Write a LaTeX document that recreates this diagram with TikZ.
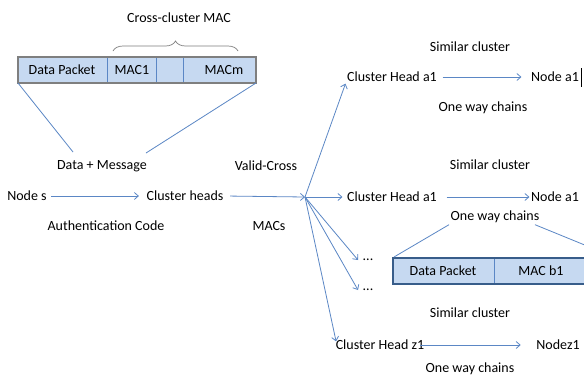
\documentclass[tikz,border=0pt]{standalone}
\usepackage{fontspec}
\setmainfont{Carlito}
\usetikzlibrary{arrows.meta,decorations.pathreplacing}
\definecolor{ln}{HTML}{5B87C5}
\definecolor{cellfill}{HTML}{C6D9F1}
\definecolor{grayb}{HTML}{7F7F7F}
\definecolor{darkb}{HTML}{385D8A}
\tikzset{
  lbl/.style={inner sep=1.5pt, font=\fontsize{14}{16}\selectfont},
  conn/.style={draw=ln, line width=0.8pt},
  arr/.style={conn, -{Straight Barb[length=4pt,width=7pt]}},
}
\begin{document}
\begin{tikzpicture}[x=1pt,y=-1pt]
\useasboundingbox (0,0) rectangle (584,381);
\clip (0,0) rectangle (584,381);
\fill[white] (0,0) rectangle (584,381);
% top packet
\fill[cellfill] (18,57) rectangle (256,83);
\draw[ln, line width=0.8pt] (107,57) -- (107,83) (156,57) -- (156,83) (183,57) -- (183,83);
\draw[grayb, line width=2pt] (18,57) rectangle (256,83);
\coordinate (tbl) at (18,83);
\coordinate (tbr) at (256,83);
\node[lbl] (dp1) at (62,70) {Data Packet};
\node[lbl] (mac1) at (132,70) {MAC1};
\node[lbl] (macm) at (224,70) {MACm};
\draw[grayb, line width=0.7pt, decorate, decoration={brace, amplitude=10pt}] (113,51) -- (238,51);
\node[lbl] (cc) at (179,18) {Cross-cluster MAC};
% left texts
\node[lbl] (dm) at (102,166) {Data + Message};
\node[lbl] (vc) at (266,166) {Valid-Cross};
\node[lbl] (ns) at (27,196) {Node s};
\node[lbl] (ch) at (185,196) {Cluster heads};
\node[lbl] (ac) at (106,226) {Authentication Code};
\node[lbl] (macs) at (269,226) {MACs};
\coordinate (dmL) at (73,152);
\coordinate (dmR) at (146,153);
\draw[conn] (tbl) -- (dmL);
\draw[conn] (tbr) -- (dmR);
\coordinate (fan) at (305,197);
\draw[arr, shorten <=3pt, shorten >=6pt] (ns.east) -- (ch.west);
\draw[arr, shorten <=5pt] (ch.east) -- (fan);
% right column
\node[lbl] (sc1) at (470,47) {Similar cluster};
\node[lbl] (cha1) at (392,77) {Cluster Head a1};
\node[lbl] (na1) at (555,77) {Node a1};
\node[lbl] (ow1) at (483,108) {One way chains};
\draw[black, line width=1pt] (581,68) -- (581,87);
\node[lbl] (sc2) at (490,165) {Similar cluster};
\node[lbl] (cha2) at (392,197) {Cluster Head a1};
\node[lbl] (na2) at (555,197) {Node a1};
\node[lbl] (ow2) at (495,217) {One way chains};
\node[lbl] (d1) at (368,260) {...};
\node[lbl] (d2) at (368,290) {...};
\node[lbl] (sc3) at (470,313) {Similar cluster};
\node[lbl] (chz) at (380,345) {Cluster Head z1};
\node[lbl] (nz) at (558,345) {Nodez1};
\node[lbl] (ow3) at (470,369) {One way chains};
% fan arrows
\draw[arr] (fan) -- (cha1.south west);
\draw[arr, shorten >=3pt] (fan) -- (cha2.west);
\draw[arr] (fan) -- ([xshift=-3pt]d1.west);
\draw[arr] (fan) -- ([xshift=-3pt]d2.west);
\draw[arr] (fan) -- ([xshift=2pt,yshift=-3pt]chz.north west);
% horizontal arrows
\draw[arr] ([xshift=4pt]cha1.east) -- ([xshift=-8pt]na1.west);
\draw[arr] ([xshift=8pt]cha2.east) -- (na2.west);
\draw[arr] ([xshift=-6pt]chz.east) -- ([xshift=-14pt]nz.west);
% lower packet
\fill[cellfill] (393,258) rectangle (600,284);
\draw[ln, line width=0.8pt] (494,258) -- (494,284);
\draw[darkb, line width=2pt] (600,258) -- (393,258) -- (393,284) -- (600,284);
\node[lbl] (dp2) at (443,271) {Data Packet};
\node[lbl] (macb) at (541,271) {MAC b1};
\coordinate (bl) at (394,257);
\coordinate (br) at (592,248);
\draw[conn] (ow2.south west) -- (bl);
\draw[conn] ([xshift=-6pt]ow2.south east) -- (br);
\end{tikzpicture}
\end{document}
